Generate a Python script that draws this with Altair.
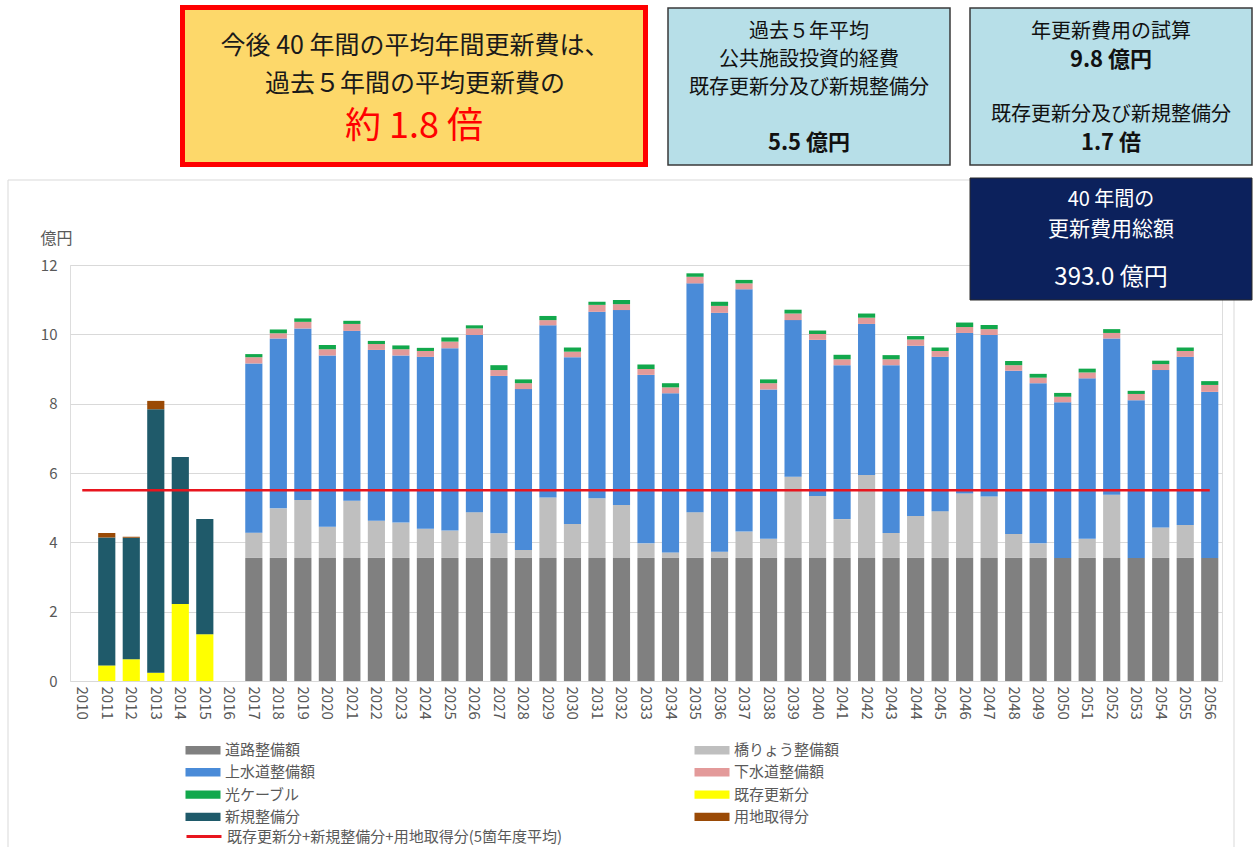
import altair as alt
import pandas as pd

FONT = "Noto Sans CJK JP"

# ---------------- data ----------------
all_years = [str(y) for y in range(2010, 2057)]
past_years = ["2011", "2012", "2013", "2014", "2015"]
future_years = [str(y) for y in range(2017, 2057)]

categories = ["道路整備額", "橋りょう整備額", "上水道整備額", "下水道整備額",
              "光ケーブル", "既存更新分", "新規整備分", "用地取得分"]
colors = ["#808080", "#bfbfbf", "#4a8bd8", "#e39a9a",
          "#12a84c", "#ffff00", "#1f5a6a", "#9a4a06"]
# legend order (column-major layout of a 2-column legend)
legend_order = ["道路整備額", "上水道整備額", "光ケーブル", "新規整備分",
                "橋りょう整備額", "下水道整備額", "既存更新分", "用地取得分"]

# past years (2011-2015)
existing = [0.45, 0.63, 0.24, 2.22, 1.35]
new_dev = [3.69, 3.50, 7.60, 4.24, 3.32]
land = [0.13, 0.03, 0.24, 0.0, 0.0]

# future years (2017-2056)
road = [3.55, 3.55, 3.55, 3.55, 3.55, 3.55, 3.55, 3.55, 3.55, 3.55,
        3.55, 3.55, 3.55, 3.55, 3.55, 3.55, 3.55, 3.55, 3.55, 3.55,
        3.55, 3.55, 3.55, 3.55, 3.55, 3.55, 3.55, 3.55, 3.55, 3.55,
        3.55, 3.55, 3.55, 3.55, 3.55, 3.55, 3.55, 3.55, 3.55, 3.55]
bridge = [0.73, 1.43, 1.67, 0.90, 1.65, 1.07, 1.02, 0.84, 0.79, 1.32,
          0.71, 0.23, 1.74, 0.98, 1.72, 1.53, 0.42, 0.16, 1.32, 0.18,
          0.76, 0.55, 2.34, 1.79, 1.12, 2.39, 0.72, 1.21, 1.35, 1.86,
          1.77, 0.69, 0.42, 0.00, 0.55, 1.82, 0.00, 0.88, 0.95, 0.00]
water = [4.88, 4.90, 4.95, 4.94, 4.90, 4.93, 4.82, 4.96, 5.26, 5.11,
         4.54, 4.64, 4.97, 4.81, 5.38, 5.62, 4.86, 4.59, 6.60, 6.89,
         6.99, 4.31, 4.52, 4.50, 4.44, 4.36, 4.84, 4.91, 4.45, 4.63,
         4.66, 4.71, 4.62, 4.49, 4.63, 4.51, 4.55, 4.54, 4.85, 4.79]
sewer = [0.18, 0.15, 0.19, 0.18, 0.20, 0.17, 0.18, 0.17, 0.19, 0.19,
         0.17, 0.17, 0.15, 0.16, 0.20, 0.17, 0.17, 0.17, 0.19, 0.20,
         0.17, 0.18, 0.19, 0.17, 0.17, 0.18, 0.17, 0.18, 0.17, 0.17,
         0.17, 0.16, 0.16, 0.16, 0.17, 0.16, 0.18, 0.17, 0.17, 0.20]
fiber = [0.09, 0.11, 0.10, 0.12, 0.09, 0.09, 0.11, 0.09, 0.12, 0.09,
         0.14, 0.11, 0.12, 0.12, 0.09, 0.12, 0.13, 0.12, 0.10, 0.12,
         0.10, 0.11, 0.11, 0.10, 0.13, 0.12, 0.12, 0.10, 0.10, 0.13,
         0.12, 0.12, 0.11, 0.11, 0.11, 0.11, 0.09, 0.10, 0.10, 0.11]

avg_label = "既存更新分+新規整備分+用地取得分(5箇年度平均)"
avg_value = 5.5

rows = []
for ci, (cat, yrs, vals) in enumerate([
        (categories[0], future_years, road),
        (categories[1], future_years, bridge),
        (categories[2], future_years, water),
        (categories[3], future_years, sewer),
        (categories[4], future_years, fiber),
        (categories[5], past_years, existing),
        (categories[6], past_years, new_dev),
        (categories[7], past_years, land)]):
    for yr, v in zip(yrs, vals):
        if v > 0:
            rows.append({"year": yr, "category": cat, "value": v, "ord": ci})
bars_df = pd.DataFrame(rows)

avg_df = pd.DataFrame({"start": [all_years[0]], "end": [all_years[-1]],
                       "value": [avg_value], "label": [avg_label]})

dummy = pd.DataFrame({"d": [0]})

LABEL_GRAY = "#595959"
color_map = dict(zip(categories, colors))

xscale = alt.Scale(domain=all_years, paddingInner=0.3, paddingOuter=0.15)
yscale = alt.Scale(domain=[0, 12], nice=False)

wide_rect = "M-2.5,-0.6H2.5V0.6H-2.5Z"

bars = alt.Chart(bars_df).mark_bar().encode(
    x=alt.X("year:O", scale=xscale, sort=all_years,
            axis=alt.Axis(title=None, labelAngle=90, labelFontSize=15,
                          labelColor=LABEL_GRAY, ticks=False, domain=False,
                          labelPadding=5, grid=False, labelFont=FONT)),
    y=alt.Y("value:Q", scale=yscale, stack="zero",
            axis=alt.Axis(title="億円", titleAngle=0, titleX=-30, titleY=-27,
                          titleAlign="left", titleBaseline="middle",
                          titleFontSize=16, titleFontWeight="normal",
                          titleColor=LABEL_GRAY, titleFont=FONT,
                          values=[0, 2, 4, 6, 8, 10, 12], labelFontSize=15,
                          labelColor=LABEL_GRAY, labelFont=FONT, ticks=False,
                          domain=False, labelPadding=13, grid=True,
                          gridColor="#d9d9d9")),
    color=alt.Color("category:N",
                    scale=alt.Scale(domain=legend_order,
                                    range=[color_map[c] for c in legend_order]),
                    legend=alt.Legend(title=None, orient="none", legendX=125.5,
                                      legendY=477.5, columns=2,
                                      columnPadding=379, rowPadding=6.3,
                                      symbolType=wide_rect, symbolSize=196,
                                      symbolStrokeWidth=0, labelOffset=14.5,
                                      labelFontSize=15, labelColor=LABEL_GRAY,
                                      labelFont=FONT, padding=0,
                                      labelLimit=400)),
    order=alt.Order("ord:Q", sort="ascending"),
)

avg_rule = alt.Chart(avg_df).mark_rule(strokeWidth=2.5).encode(
    x=alt.X("start:O", scale=xscale),
    x2="end",
    y=alt.Y("value:Q", scale=yscale),
    stroke=alt.Stroke("label:N", scale=alt.Scale(range=["#e8151e"]),
                      legend=alt.Legend(title=None, orient="none", legendX=125.5,
                                        legendY=563, symbolType="M-2.5,0H2.5",
                                        symbolSize=196, symbolStrokeWidth=3,
                                        labelOffset=14.5, labelFontSize=15,
                                        labelColor=LABEL_GRAY, labelFont=FONT,
                                        padding=0, labelLimit=600)),
)


def box(x, y, x2, y2, fill, stroke, sw, fill_opacity=1.0):
    return alt.Chart(dummy).mark_rect(
        fill=fill, stroke=stroke, strokeWidth=sw, fillOpacity=fill_opacity
    ).encode(x=alt.value(x), y=alt.value(y), x2=alt.value(x2), y2=alt.value(y2))


def label(text, x, y, size, color, weight="normal"):
    return alt.Chart(dummy).mark_text(
        text=text, fontSize=size, color=color, fontWeight=weight, font=FONT,
        align="center", baseline="middle"
    ).encode(x=alt.value(x), y=alt.value(y))


frame = box(-62, -85, 1164, 585, "#ffffff", "#d9d9d9", 1, 0.0)

annotations = [
    # box 1
    box(112.5, -257.5, 575.5, -100.5, "#fdd86a", "#ff0000", 5),
    label("今後 40 年間の平均年間更新費は、", 345, -219, 25, "#1a1a1a"),
    label("過去５年間の平均更新費の", 345, -181, 25, "#1a1a1a"),
    label("約 1.8 倍", 344, -138, 36, "#ff0000"),
    # box 2
    box(598, -257, 880, -100, "#b7dfe8", "#3a3a3a", 1.5),
    label("過去５年平均", 739, -233, 20, "#111111"),
    label("公共施設投資的経費", 739, -205, 20, "#111111"),
    label("既存更新分及び新規整備分", 739, -177, 20, "#111111"),
    label("5.5 億円", 739, -122, 22, "#111111", "bold"),
    # box 3
    box(900, -257, 1182, -100, "#b7dfe8", "#3a3a3a", 1.5),
    label("年更新費用の試算", 1041, -233, 20, "#111111"),
    label("9.8 億円", 1041, -205, 22, "#111111", "bold"),
    label("既存更新分及び新規整備分", 1041, -150, 20, "#111111"),
    label("1.7 倍", 1041, -122, 22, "#111111", "bold"),
    # box 4
    box(900, -87, 1182, 35, "#0c215c", "#2a2a2a", 1),
    label("40 年間の", 1041, -65, 20, "#ffffff"),
    label("更新費用総額", 1041, -35, 21, "#ffffff"),
    label("393.0 億円", 1041, 13, 24, "#ffffff"),
]

chart = alt.layer(frame, bars, avg_rule, *annotations).properties(
    width=1152, height=416,
    padding={"left": 70, "top": 265, "right": 35, "bottom": 166},
    autosize=alt.AutoSizeParams(type="none"),
    background="#ffffff",
).resolve_legend(color="independent", stroke="independent").configure_view(
    strokeWidth=0
).configure(font=FONT)

chart.save("out.html", embed_options={"renderer": "svg", "actions": False})
